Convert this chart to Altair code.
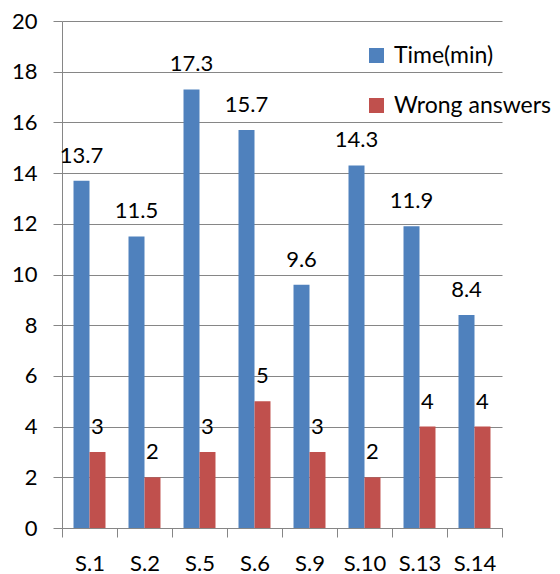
import altair as alt
import pandas as pd

categories = ["S.1", "S.2", "S.5", "S.6", "S.9", "S.10", "S.13", "S.14"]
time_min = [13.7, 11.5, 17.3, 15.7, 9.6, 14.3, 11.9, 8.4]
wrong = [3, 2, 3, 5, 3, 2, 4, 4]
series = ["Time(min)", "Wrong answers"]
colors = ["#4F81BD", "#C0504D"]
y_ticks = [0, 2, 4, 6, 8, 10, 12, 14, 16, 18, 20]

rows = []
for c, t, w in zip(categories, time_min, wrong):
    rows.append({"cat": c, "series": series[0], "value": t, "label": f"{t:g}"})
    rows.append({"cat": c, "series": series[1], "value": w, "label": f"{w:g}"})
df = pd.DataFrame(rows)

FONT = "Lato"
GRAY = "#868686"

base = alt.Chart(df).encode(
    x=alt.X(
        "cat:N",
        sort=categories,
        scale=alt.Scale(paddingInner=0, paddingOuter=0),
        axis=alt.Axis(
            title=None, labelAngle=0, tickBand="extent", tickSize=9,
            labelPadding=16, grid=False,
        ),
    ),
    xOffset=alt.XOffset(
        "series:N", sort=series,
        scale=alt.Scale(paddingInner=0, paddingOuter=0.72),
    ),
    y=alt.Y(
        "value:Q",
        scale=alt.Scale(domain=[0, 20], nice=False),
        axis=alt.Axis(
            title=None, values=y_ticks, tickSize=9, labelPadding=16,
            grid=True,
        ),
    ),
)

bars = base.mark_bar().encode(
    color=alt.Color(
        "series:N",
        sort=series,
        scale=alt.Scale(domain=series, range=colors),
        legend=alt.Legend(
            title=None, orient="none", legendX=303, legendY=23,
            symbolType="square", symbolSize=225, symbolStrokeWidth=0,
            labelFontSize=23, labelFont=FONT, labelColor="black",
            labelLimit=400,
            labelOffset=6, rowPadding=26, padding=0, offset=0,
        ),
    )
)

labels = base.mark_text(
    dy=-18, baseline="alphabetic", fontSize=22, font=FONT, color="black"
).encode(text="label:N")

chart = (
    alt.layer(bars, labels)
    .properties(
        width=440, height=507,
        autosize=alt.AutoSizeParams(type="none"),
        padding={"left": 62, "top": 21, "right": 58, "bottom": 46},
    )
    .configure_view(stroke=None)
    .configure_axis(
        labelFont=FONT, labelFontSize=22, labelColor="black",
        domainColor=GRAY, tickColor=GRAY, gridColor=GRAY,
        domainWidth=1, tickWidth=1, gridWidth=1,
    )
)

chart.save("out.html", embed_options={"renderer": "svg", "actions": False})
